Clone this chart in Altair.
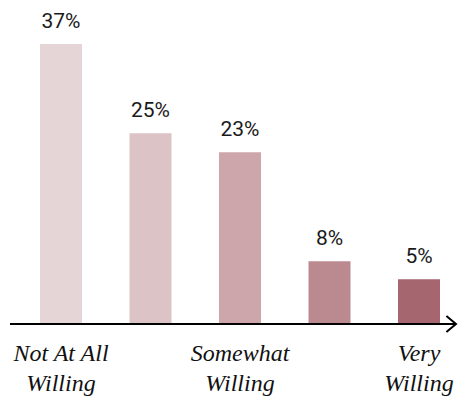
import altair as alt
import pandas as pd

categories = ["Not At All Willing", "Slightly Willing", "Somewhat Willing", "Moderately Willing", "Very Willing"]
values = [37.0, 25.2, 22.7, 8.3, 5.9]
value_labels = ["37%", "25%", "23%", "8%", "5%"]
label_line1 = ["Not At All", "", "Somewhat", "", "Very"]
label_line2 = ["Willing", "", "Willing", "", "Willing"]
colors = ["#e5d5d7", "#dcc3c6", "#cca6aa", "#bb8990", "#a6666f"]

df = pd.DataFrame({
    "cat": categories,
    "val": values,
    "lab": value_labels,
    "l1": label_line1,
    "l2": label_line2,
    "col": colors,
})

W, H = 450, 316

xs = alt.X("cat:N", sort=categories, axis=None,
           scale=alt.Scale(domain=categories, paddingInner=0.5307, paddingOuter=0.2793, align=0.64))
ys = alt.Y("val:Q", axis=None, scale=alt.Scale(domain=[0, 41.74], nice=False, zero=True))

base = alt.Chart(df)

bars = base.mark_bar().encode(
    x=xs, y=ys,
    color=alt.Color("col:N", scale=None, legend=None),
)

pct = base.mark_text(font="Roboto", fontSize=21, baseline="alphabetic", dy=-16, color="#1a1a1a").encode(
    x=xs, y=ys, text="lab:N"
)

serif = "Liberation Serif"
line1 = base.mark_text(font=serif, fontStyle="italic", fontSize=24,
                       baseline="alphabetic", dy=37, color="#111111").encode(
    x=xs, y=alt.value(H), text="l1:N"
)
line2 = base.mark_text(font=serif, fontStyle="italic", fontSize=24,
                       baseline="alphabetic", dy=67, color="#111111").encode(
    x=xs, y=alt.value(H), text="l2:N"
)

axis_line = alt.Chart(pd.DataFrame({"a": [0]})).mark_rule(color="black", strokeWidth=2).encode(
    x=alt.value(2), x2=alt.value(448), y=alt.value(H)
)

arrow = alt.Chart(pd.DataFrame({"a": [0]})).mark_point(
    shape="M -1.2 -1 L 0 0 L -1.2 1", size=256, filled=False, color="black",
    strokeWidth=2, opacity=1
).encode(x=alt.value(448), y=alt.value(H))

chart = alt.layer(bars, pct, line1, line2, axis_line, arrow).properties(
    width=W, height=H,
    autosize=alt.AutoSizeParams(type="none"),
    padding={"left": 0, "top": 0, "right": 0, "bottom": 75},
).configure_view(stroke=None)

chart.save("out.html", embed_options={"renderer": "svg", "actions": False})
